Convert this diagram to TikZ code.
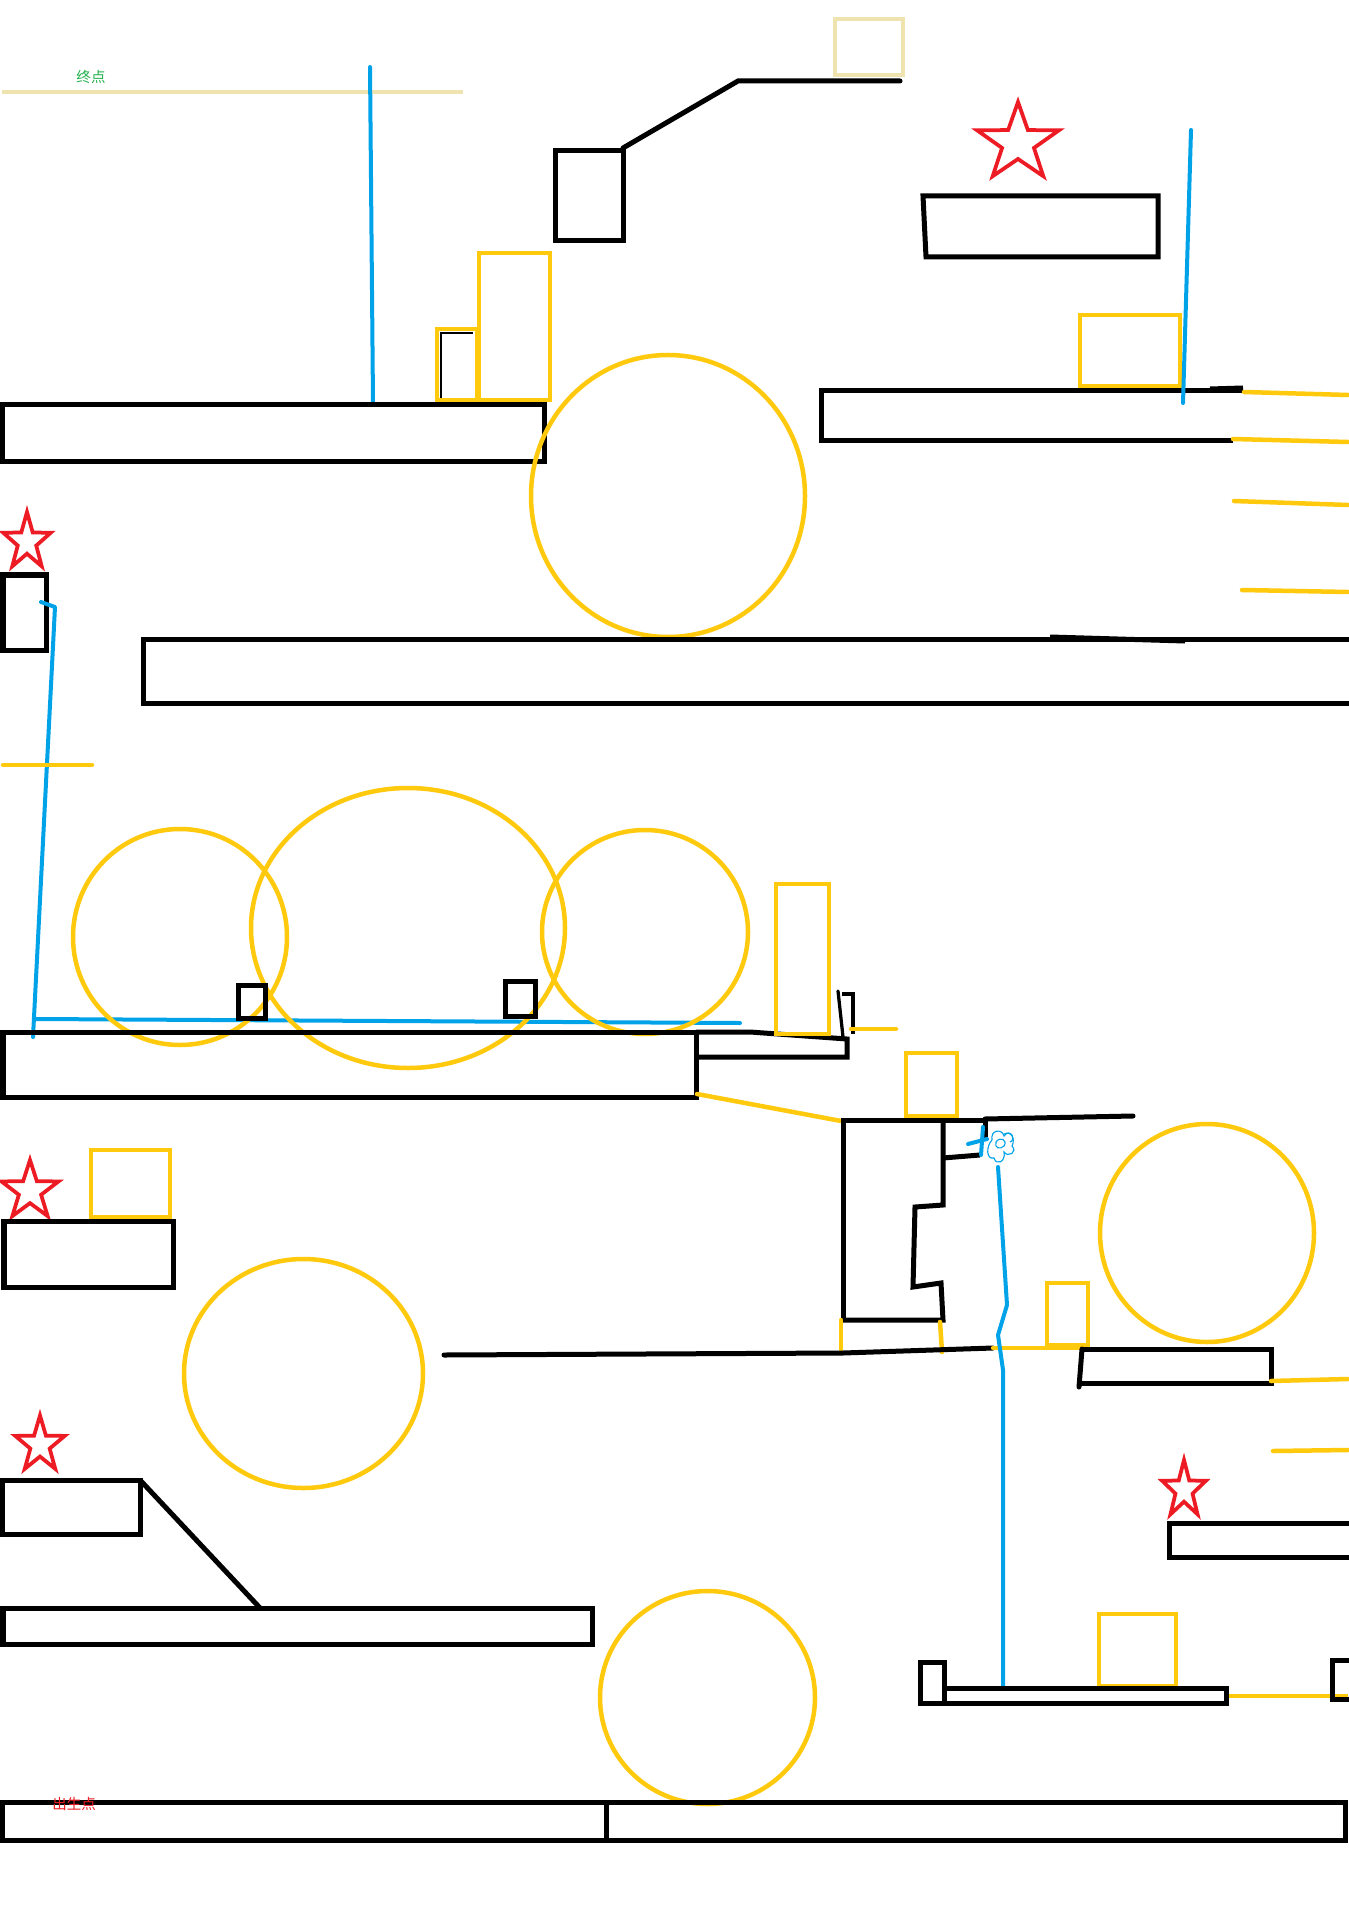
\documentclass[tikz,border=0pt]{standalone}
\usepackage{fontspec}
\newfontfamily\cjk{Noto Sans CJK SC}
\definecolor{pyellow}{HTML}{FFC90E}
\definecolor{pblue}{HTML}{00A2E8}
\definecolor{pred}{HTML}{ED1C24}
\definecolor{pgreen}{HTML}{22B14C}
\definecolor{pcream}{HTML}{EFE4B0}
\tikzset{
  blk/.style={draw=black,line width=2pt},
  thinblk/.style={draw=black,line width=1.3pt},
  hairblk/.style={draw=black,line width=0.8pt},
  ylw/.style={draw=pyellow,line width=1.8pt},
  ylwl/.style={draw=pyellow,line width=1.8pt,line cap=round},
  blu/.style={draw=pblue,line width=1.6pt,line cap=round,line join=round},
  scrib/.style={draw=pblue,line width=0.45pt},
  crm/.style={draw=pcream,line width=1.8pt},
  star5/.pic={\draw[draw=pred,line width=1.5pt] (270:1) -- (306:0.39) -- (342:1) -- (18:0.39) -- (54:1) -- (90:0.39) -- (126:1) -- (162:0.39) -- (198:1) -- (234:0.39) -- cycle;},
  lbl/.style={inner sep=0pt,font=\cjk\fontsize{5.8pt}{6.5pt}\selectfont}
}
\begin{document}
\begin{tikzpicture}[x=0.4pt,y=-0.4pt]
\useasboundingbox[fill=white] (0,0) rectangle (1348,1917);
% ---------- top: goal ----------
\node[lbl,text=pgreen] (endlbl) at (91,77) {终点};
\draw[crm] (2,92) -- (463,92);
\draw[crm] (835,19) rectangle (903,75);
\draw[blu] (370,67) -- (373,403);
\draw[blk] (555,151) rectangle (623,241);
\draw[blk,line cap=round] (623,148) -- (738,81) -- (900,81);
\draw[ylw] (479,253) rectangle (550,400);
\draw[ylw] (437,329) rectangle (477,400);
\draw[hairblk] (441,398) -- (441,333) -- (473,333);
\draw[blk] (2,405) rectangle (544,462);
\draw[ylw] (668,496) circle [x radius=137, y radius=141];
% ---------- top right ----------
\pic[xscale=43,yscale=41] at (1018,143) {star5};
\draw[blk] (923,196) -- (1158,196) -- (1158,257) -- (926,257) -- cycle;
\draw[ylw] (1080,315) rectangle (1180,386);
\draw[blk] (1233,441) -- (821,441) -- (821,391) -- (1243,391);
\draw[blk] (1210,389) -- (1243,388);
\draw[blu] (1191,130) -- (1183,403);
\draw[ylwl] (1244,392) -- (1348,395);
\draw[ylwl] (1233,439) -- (1348,442);
\draw[ylwl] (1234,501) -- (1348,505);
\draw[ylwl] (1242,590) -- (1348,592);
% ---------- left star + long platform ----------
\pic[xscale=25,yscale=30] at (27,542) {star5};
\draw[blk] (3,575) rectangle (46,650);
\draw[blk] (143,639) rectangle (1356,703);
\draw[blk] (1050,637) -- (1185,641);
\draw[blu] (41,602) -- (55,607) -- (33,1037);
\draw[blu] (36,1019) -- (740,1023);
\draw[ylwl] (3,765) -- (92,765);
% ---------- middle circles ----------
\draw[ylw] (180,937) circle [x radius=107, y radius=108];
\draw[ylw] (408,928) circle [x radius=157, y radius=140];
\draw[ylw] (645,932) circle [x radius=103, y radius=102];
\draw[blk] (238,985) rectangle (265,1018);
\draw[blk] (505,981) rectangle (535,1016);
\draw[blk] (3,1032) rectangle (696,1097);
\draw[blk] (696,1032) -- (750,1032) -- (847,1039) -- (847,1057) -- (696,1057);
\draw[ylw] (776,884) rectangle (829,1034);
\draw[thinblk,line cap=round] (838,991) -- (843,1037);
\draw[thinblk] (842,994) -- (853,994) -- (853,1034);
\draw[ylwl] (851,1029) -- (896,1029);
\draw[ylwl] (697,1094) -- (841,1121);
% ---------- left lower ----------
\pic[xscale=30,yscale=31] at (30,1191) {star5};
\draw[ylw] (91,1150) rectangle (170,1217);
\draw[blk] (4,1221) rectangle (173,1287);
\draw[ylw] (303.5,1373.5) circle [x radius=119.5, y radius=114.5];
\pic[xscale=26,yscale=29.5] at (40,1445) {star5};
\draw[blk] (2,1480) rectangle (140,1534);
\draw[blk] (140,1480) -- (261,1609);
\draw[blk] (3,1608) rectangle (592,1644);
% ---------- structure on the right middle ----------
\draw[ylw] (906,1053) rectangle (957,1116);
\draw[blk] (843,1320) -- (843,1120) -- (985,1120);
\draw[blk,line cap=round] (985,1119) -- (1133,1116);
\draw[blk] (943,1120) -- (943,1205) -- (915,1207) -- (913,1287) -- (941,1283) -- (943,1320) -- (843,1320);
\draw[blk] (943,1158) -- (980,1155);
\draw[blk] (985,1120) -- (985,1138);
\draw[ylwl] (841,1320) -- (841,1353);
\draw[ylwl] (940,1322) -- (942,1352);
\draw[blk,line cap=round] (444,1355) -- (843,1353) -- (993,1348);
\draw[ylwl] (993,1348) -- (1081,1348);
\draw[blu] (968,1144) -- (987,1139);
\draw[blu] (983,1127) -- (981,1155);
\draw[scrib] (992,1140) .. controls (990,1130) and (1002,1128) .. (1004,1136) .. controls (1010,1128) and (1016,1138) .. (1012,1146) .. controls (1018,1152) and (1008,1158) .. (1004,1152) .. controls (1006,1162) and (996,1166) .. (994,1158) .. controls (986,1160) and (986,1146) .. (992,1140);
\draw[scrib] (996,1142) .. controls (1000,1136) and (1008,1140) .. (1004,1146) .. controls (1000,1150) and (994,1148) .. (996,1142);
\draw[scrib] (1004,1134) .. controls (1012,1130) and (1016,1140) .. (1010,1142);
\draw[blu] (998,1167) -- (1007,1305) -- (998,1335) -- (1003,1370) -- (1003,1687);
\draw[ylw] (1047,1283) rectangle (1088,1345);
\draw[ylw] (1207,1233) circle [x radius=107, y radius=109];
\draw[blk] (1082,1349) -- (1271,1349) -- (1271,1383) -- (1081,1383);
\draw[blk,line cap=round] (1082,1349) -- (1079,1387);
\draw[ylwl] (1271,1381) -- (1348,1379);
\draw[ylwl] (1273,1451) -- (1348,1450);
\pic[xscale=23,yscale=30] at (1184,1490) {star5};
\draw[blk] (1169,1523) rectangle (1356,1557);
% ---------- bottom ----------
\draw[ylw] (707.5,1697.5) circle [x radius=107.5, y radius=106.5];
\draw[ylw] (1099,1614) rectangle (1176,1686);
\draw[ylw] (1226,1696) -- (1348,1696);
\draw[blk] (920,1662) rectangle (944,1703);
\draw[blk] (944,1688) rectangle (1226,1703);
\draw[blk] (1332,1660) rectangle (1360,1699);
\draw[blk] (2,1802) rectangle (1345,1840);
\draw[blk] (606,1802) -- (606,1840);
\node[lbl,text=pred] (startlbl) at (74,1804) {出生点};
\end{tikzpicture}
\end{document}
